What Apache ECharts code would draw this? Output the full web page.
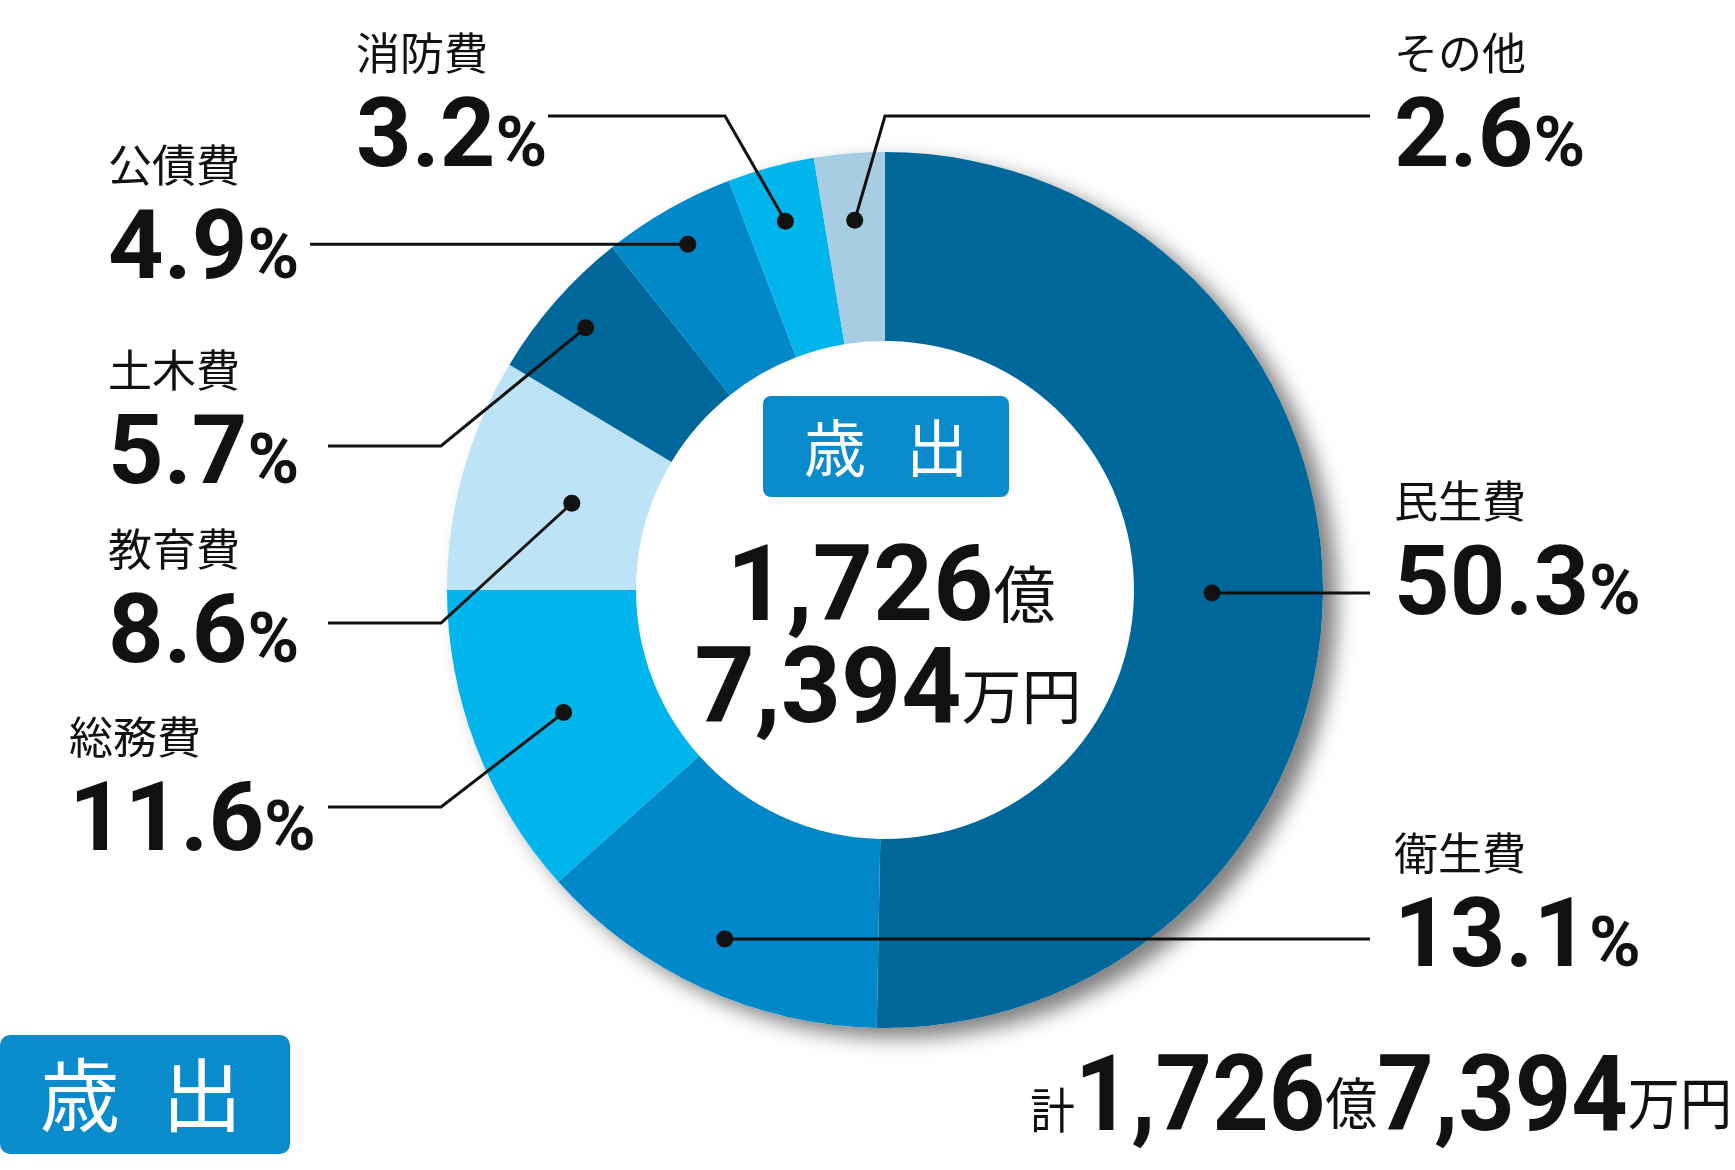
<!DOCTYPE html>
<html>
<head>
<meta charset="utf-8">
<script src="https://cdn.jsdelivr.net/npm/echarts@6/dist/echarts.min.js"></script>
<style>
  html, body { margin: 0; padding: 0; background: #fff; }
  #chart { width: 1735px; height: 1170px; }
</style>
</head>
<body>
<div id="chart"></div>
<script>
// 歳出の内訳（構成比 %）
var categories = ['民生費', '衛生費', '総務費', '教育費', '土木費', '公債費', '消防費', 'その他'];
var shares = [50.3, 13.1, 11.6, 8.6, 5.7, 4.9, 3.2, 2.6];
var sliceColors = ['#00679b', '#0088c9', '#00b5ec', '#bde3f6', '#00679b', '#0088c9', '#00b5ec', '#a7cde2'];

// 合計
var totalOku = '1,726';
var totalMan = '7,394';
var boxTitle = '歳出';

// レイアウト
var CX = 885, CY = 590, R_IN = 249, R_OUT = 438;
var NUM_FONT = 'Roboto, "Noto Sans", sans-serif';
var JP_FONT = '"Noto Sans CJK JP", "Noto Sans", sans-serif';
var BLUE = '#0a8bcb';
var INK = '#111';

// ラベル位置と引き出し線 ('dot' = 点と同じ高さ)
var labelSpots = {
  '民生費': { x: 1394, y: 471, dotR: 327, line: [[1370, 'dot']] },
  '衛生費': { x: 1394, y: 823, dotR: 384, line: [[1370, 'dot']] },
  '総務費': { x: 69, y: 707, dotR: 344, line: [[441, 807], [328, 807]] },
  '教育費': { x: 108, y: 519, dotR: 325, line: [[441, 623], [328, 623]] },
  '土木費': { x: 108, y: 340, dotR: 398, line: [[441, 446], [328, 446]] },
  '公債費': { x: 108, y: 135, dotR: 398, line: [[310, 'dot']] },
  '消防費': { x: 356, y: 23, dotR: 382, line: [[725, 116], [548, 116]] },
  'その他': { x: 1394, y: 23, dotR: 371, line: [[885, 116], [1370, 116]] }
};

var sum = shares.reduce(function (a, b) { return a + b; }, 0);
var midAngles = [];
(function () {
  var acc = 0;
  shares.forEach(function (v) {
    midAngles.push((acc + v / 2) / sum * 2 * Math.PI);
    acc += v;
  });
})();

function dotPos(i) {
  var r = labelSpots[categories[i]].dotR;
  var a = midAngles[i];
  return [CX + r * Math.sin(a), CY - r * Math.cos(a)];
}

function plainData() {
  return categories.map(function (name, i) {
    return { name: name, value: shares[i] };
  });
}

var chart = echarts.init(document.getElementById('chart'));

var ringBase = {
  type: 'pie',
  center: [CX, CY],
  radius: [R_IN, R_OUT],
  startAngle: 90,
  clockwise: true,
  avoidLabelOverlap: false,
  emphasis: { disabled: true }
};

var option = {
  animation: false,
  series: [
    // 影
    {
      type: 'pie',
      z: 1,
      silent: true,
      center: [CX, CY],
      radius: [0, R_OUT],
      label: { show: false },
      labelLine: { show: false },
      data: [{
        value: 1,
        itemStyle: {
          color: '#fff',
          shadowBlur: 20,
          shadowColor: 'rgba(0,0,0,0.5)',
          shadowOffsetX: 14,
          shadowOffsetY: 10
        }
      }]
    },
    // ドーナツ本体
    Object.assign({}, ringBase, {
      z: 2,
      data: categories.map(function (name, i) {
        return { name: name, value: shares[i], itemStyle: { color: sliceColors[i] } };
      }),
      label: { show: false },
      labelLine: { show: false }
    }),
    // ラベルと引き出し線
    Object.assign({}, ringBase, {
      z: 3,
      silent: true,
      data: plainData(),
      itemStyle: { color: 'rgba(0,0,0,0)' },
      label: {
        show: true,
        position: 'outside',
        color: INK,
        formatter: function (p) {
          return '{n|' + p.name + '}\n{p|' + p.value.toFixed(1) + '}{s|%}';
        },
        rich: {
          n: { fontFamily: JP_FONT, fontSize: 44, lineHeight: 61, color: INK },
          p: { fontFamily: NUM_FONT, fontWeight: 'bold', fontSize: 97, lineHeight: 116, color: INK },
          s: { fontFamily: NUM_FONT, fontWeight: 'bold', fontSize: 70, height: 104, verticalAlign: 'bottom', color: INK }
        }
      },
      labelLine: {
        show: true,
        lineStyle: { color: INK, width: 3 }
      },
      labelLayout: function (params) {
        var i = params.dataIndex;
        var spot = labelSpots[categories[i]];
        var d = dotPos(i);
        var pts = [d];
        spot.line.forEach(function (pt) {
          pts.push([pt[0], pt[1] === 'dot' ? d[1] : pt[1]]);
        });
        return {
          x: spot.x,
          y: spot.y,
          align: 'left',
          verticalAlign: 'top',
          labelLinePoints: pts
        };
      }
    }),
    // 引き出し線の点
    Object.assign({}, ringBase, {
      z: 4,
      silent: true,
      data: plainData(),
      itemStyle: { color: 'rgba(0,0,0,0)' },
      label: {
        show: true,
        position: 'inside',
        formatter: ' ',
        fontSize: 2,
        width: 17,
        height: 17,
        padding: 0,
        borderRadius: 8.5,
        backgroundColor: INK
      },
      labelLine: { show: false },
      labelLayout: function (params) {
        var d = dotPos(params.dataIndex);
        return { x: d[0], y: d[1], align: 'center', verticalAlign: 'middle' };
      }
    })
  ],
  graphic: [
    // 中央の見出し
    {
      type: 'rect', z: 10,
      shape: { x: 763, y: 396, width: 246, height: 101, r: 8 },
      style: { fill: BLUE }
    },
    {
      type: 'text', z: 11, x: 886, y: 448,
      style: {
        text: '{c|' + boxTitle.charAt(0) + '}{sp|　}{c|' + boxTitle.charAt(1) + '}',
        align: 'center', verticalAlign: 'middle',
        rich: {
          c: { fontFamily: JP_FONT, fontSize: 62, fill: '#fff' },
          sp: { fontFamily: JP_FONT, fontSize: 40, fill: '#fff' }
        }
      }
    },
    {
      type: 'text', z: 11, x: 891, y: 594,
      style: {
        text: '{b|' + totalOku + '}{u|億}',
        align: 'center', verticalAlign: 'middle',
        rich: {
          b: { fontFamily: NUM_FONT, fontWeight: 'bold', fontSize: 105, lineHeight: 110, fill: INK },
          u: { fontFamily: JP_FONT, fontSize: 62, fill: INK }
        }
      }
    },
    {
      type: 'text', z: 11, x: 888, y: 696,
      style: {
        text: '{b|' + totalMan + '}{u|万円}',
        align: 'center', verticalAlign: 'middle',
        rich: {
          b: { fontFamily: NUM_FONT, fontWeight: 'bold', fontSize: 105, lineHeight: 110, fill: INK },
          u: { fontFamily: JP_FONT, fontSize: 60, fill: INK }
        }
      }
    },
    // 左下の見出し
    {
      type: 'rect', z: 10,
      shape: { x: 0, y: 1035, width: 290, height: 119, r: 10 },
      style: { fill: BLUE }
    },
    {
      type: 'text', z: 11, x: 141, y: 1095,
      style: {
        text: '{c|' + boxTitle.charAt(0) + '}{sp|　}{c|' + boxTitle.charAt(1) + '}',
        align: 'center', verticalAlign: 'middle',
        rich: {
          c: { fontFamily: JP_FONT, fontSize: 80, fill: '#fff' },
          sp: { fontFamily: JP_FONT, fontSize: 42, fill: '#fff' }
        }
      }
    },
    // 右下の合計
    {
      type: 'text', z: 11, x: 1732, y: 1103,
      scaleX: 0.93,
      style: {
        text: '{k|計}{b|' + totalOku + '}{u|億}{b|' + totalMan + '}{u|万円}',
        align: 'right', verticalAlign: 'middle',
        rich: {
          k: { fontFamily: JP_FONT, fontSize: 48, height: 97, verticalAlign: 'bottom', fill: INK },
          b: { fontFamily: NUM_FONT, fontWeight: 'bold', fontSize: 106, lineHeight: 110, fill: INK },
          u: { fontFamily: JP_FONT, fontSize: 56, fill: INK }
        }
      }
    }
  ]
};

chart.setOption(option);
</script>
</body>
</html>
